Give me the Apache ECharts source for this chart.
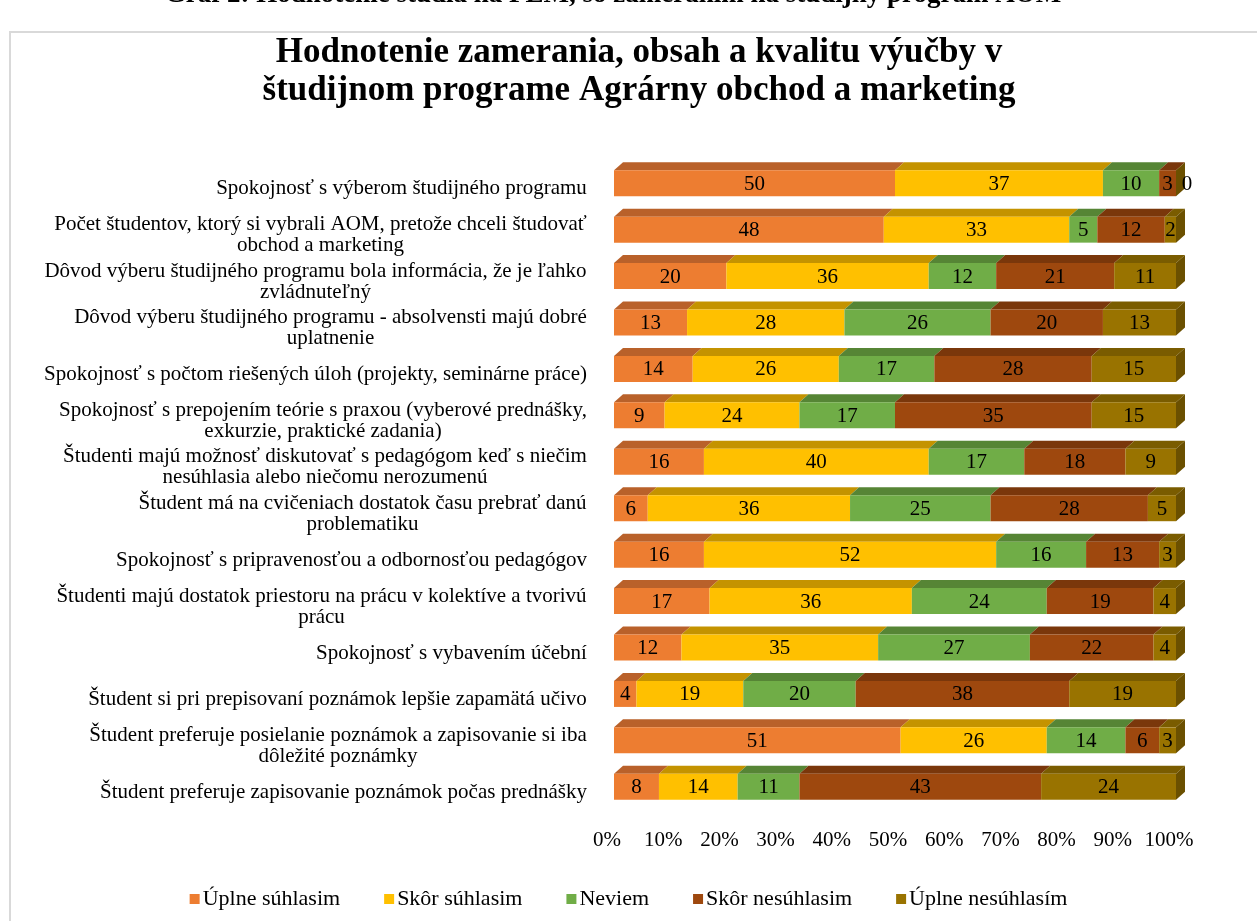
<!DOCTYPE html>
<html>
<head>
<meta charset="utf-8">
<script src="https://cdn.jsdelivr.net/npm/echarts@6/dist/echarts.min.js"></script>
<style>
  html, body { margin: 0; padding: 0; background: #fff; }
  #chart { width: 1257px; height: 921px; }
</style>
</head>
<body>
<div id="chart"></div>
<script>
const categories = [
  'Spokojnosť s výberom študijného programu',
  'Počet študentov, ktorý si vybrali AOM, pretože chceli študovať\nobchod a marketing',
  'Dôvod výberu študijného programu bola informácia, že je ľahko\nzvládnuteľný',
  'Dôvod výberu študijného programu - absolvensti majú dobré\nuplatnenie',
  'Spokojnosť s počtom riešených úloh (projekty, seminárne práce)',
  'Spokojnosť s prepojením teórie s praxou (vyberové prednášky,\nexkurzie, praktické zadania)',
  'Študenti majú možnosť diskutovať s pedagógom keď s niečim\nnesúhlasia alebo niečomu nerozumenú',
  'Študent má na cvičeniach dostatok času prebrať danú\nproblematiku',
  'Spokojnosť s pripravenosťou a odbornosťou pedagógov',
  'Študenti majú dostatok priestoru na prácu v kolektíve a tvorivú\nprácu',
  'Spokojnosť s vybavením účební',
  'Študent si pri prepisovaní poznámok lepšie zapamätá učivo',
  'Študent preferuje posielanie poznámok a zapisovanie si iba\ndôležité poznámky',
  'Študent preferuje zapisovanie poznámok počas prednášky'
];

const seriesNames = ['Úplne súhlasim', 'Skôr súhlasim', 'Neviem', 'Skôr nesúhlasim', 'Úplne nesúhlasím'];

const uplneSuhlasim   = [50, 48, 20, 13, 14,  9, 16,  6, 16, 17, 12,  4, 51,  8];
const skorSuhlasim    = [37, 33, 36, 28, 26, 24, 40, 36, 52, 36, 35, 19, 26, 14];
const neviem          = [10,  5, 12, 26, 17, 17, 17, 25, 16, 24, 27, 20, 14, 11];
const skorNesuhlasim  = [ 3, 12, 21, 20, 28, 35, 18, 28, 13, 19, 22, 38,  6, 43];
const uplneNesuhlasim = [ 0,  2, 11, 13, 15, 15,  9,  5,  3,  4,  4, 19,  3, 24];

const xTicks = [0, 10, 20, 30, 40, 50, 60, 70, 80, 90, 100];

const allValues = [uplneSuhlasim, skorSuhlasim, neviem, skorNesuhlasim, uplneNesuhlasim];
const frontColors = ['#ED7D31', '#FFC000', '#70AD47', '#9E480E', '#997300'];
const topColors   = ['#B9612A', '#C49300', '#568535', '#7A370B', '#7A5C00'];
const sideColor   = '#6B5000';

const FONT = '"Liberation Serif", "Times New Roman", serif';
const BAR_H = 26, DX = 9, DY = 8;

// category labels: lines centred on each other, block right aligned
const catFont = 21;
const ctx = document.createElement('canvas').getContext('2d');
ctx.font = catFont + 'px "Liberation Serif"';
const rich = {};
categories.forEach((c, i) => {
  const w = Math.max(...c.split('\n').map(l => ctx.measureText(l).width));
  rich['c' + i] = {
    width: Math.ceil(w) + 2, align: 'center',
    fontSize: catFont, fontFamily: FONT, lineHeight: 21, color: '#000'
  };
});

// build stacked segments [cat, start, end, value]
const cum = categories.map(() => 0);
const segData = allValues.map(arr => arr.map((v, i) => {
  const s = cum[i];
  cum[i] += v;
  return [i, s, s + v, v];
}));

function makeRender(k) {
  return function (params, api) {
    const cat = api.value(0);
    const p0 = api.coord([api.value(1), cat]);
    const p1 = api.coord([api.value(2), cat]);
    const val = api.value(3);
    const yT = p0[1] - BAR_H / 2, yB = p0[1] + BAR_H / 2;
    const x0 = p0[0], x1 = p1[0];
    const children = [
      { type: 'polygon', shape: { points: [[x0, yT], [x0 + DX, yT - DY], [x1 + DX, yT - DY], [x1, yT]] },
        style: { fill: topColors[k] } },
      { type: 'rect', shape: { x: x0, y: yT, width: x1 - x0, height: BAR_H },
        style: { fill: frontColors[k] } }
    ];
    if (k === allValues.length - 1) {
      children.push({ type: 'polygon', shape: { points: [[x1, yT], [x1 + DX, yT - DY], [x1 + DX, yB - DY], [x1, yB]] },
        style: { fill: sideColor } });
    }
    children.push({
      type: 'text', z2: 10,
      style: {
        text: String(val), x: (x0 + x1) / 2 + (val === 0 ? 11 : 0), y: p0[1] + 1,
        align: 'center', verticalAlign: 'middle',
        fontSize: 21, fontFamily: FONT, fill: '#000'
      }
    });
    return { type: 'group', children };
  };
}

const chart = echarts.init(document.getElementById('chart'), null, { renderer: 'canvas' });
chart.setOption({
  backgroundColor: '#fff',
  animation: false,
  title: {
    text: 'Hodnotenie zamerania, obsah a kvalitu výučby v\nštudijnom programe Agrárny obchod a marketing',
    left: 634, top: 29, textAlign: 'center',
    textStyle: { fontFamily: FONT, fontSize: 35, fontWeight: 'bold', lineHeight: 38, color: '#000' }
  },
  graphic: [
    { type: 'rect', z: -1, shape: { x: 10, y: 32, width: 1300, height: 1000 },
      style: { fill: 'none', stroke: '#d9d9d9', lineWidth: 2 } },
    { type: 'text', style: {
        text: 'Graf 2: Hodnotenie štúdia na FEM, so zameraním na študijný program AOM',
        x: 613, y: -5, align: 'center', verticalAlign: 'middle',
        fontFamily: FONT, fontSize: 27, fontWeight: 'bold', fill: '#000' } }
  ],
  legend: {
    data: seriesNames,
    top: 883, left: 'center',
    icon: 'rect', itemWidth: 10, itemHeight: 10, itemGap: 44,
    textStyle: { fontFamily: FONT, fontSize: 22, color: '#000', padding: [0, 0, 0, -2] }
  },
  grid: { left: 614, right: 81, top: 160, bottom: 111 },
  xAxis: {
    type: 'value', min: 0, max: 100, interval: 10,
    axisLine: { show: false }, axisTick: { show: false }, splitLine: { show: false },
    axisLabel: {
      formatter: v => xTicks.includes(v) ? v + '%' : '',
      margin: 20, padding: [0, 14, 0, 0],
      fontFamily: FONT, fontSize: 21, color: '#000'
    }
  },
  yAxis: {
    type: 'category', data: categories, inverse: true,
    axisLine: { show: false }, axisTick: { show: false }, splitLine: { show: false },
    axisLabel: {
      margin: 26, padding: [11, 0, 0, 0],
      formatter: (v, i) => v.split('\n').map(l => '{c' + i + '|' + l + '}').join('\n'),
      rich: rich
    }
  },
  series: allValues.map((arr, k) => ({
    name: seriesNames[k],
    type: 'custom',
    renderItem: makeRender(k),
    encode: { x: [1, 2], y: 0 },
    itemStyle: { color: frontColors[k] },
    data: segData[k]
  }))
});
</script>
</body>
</html>
